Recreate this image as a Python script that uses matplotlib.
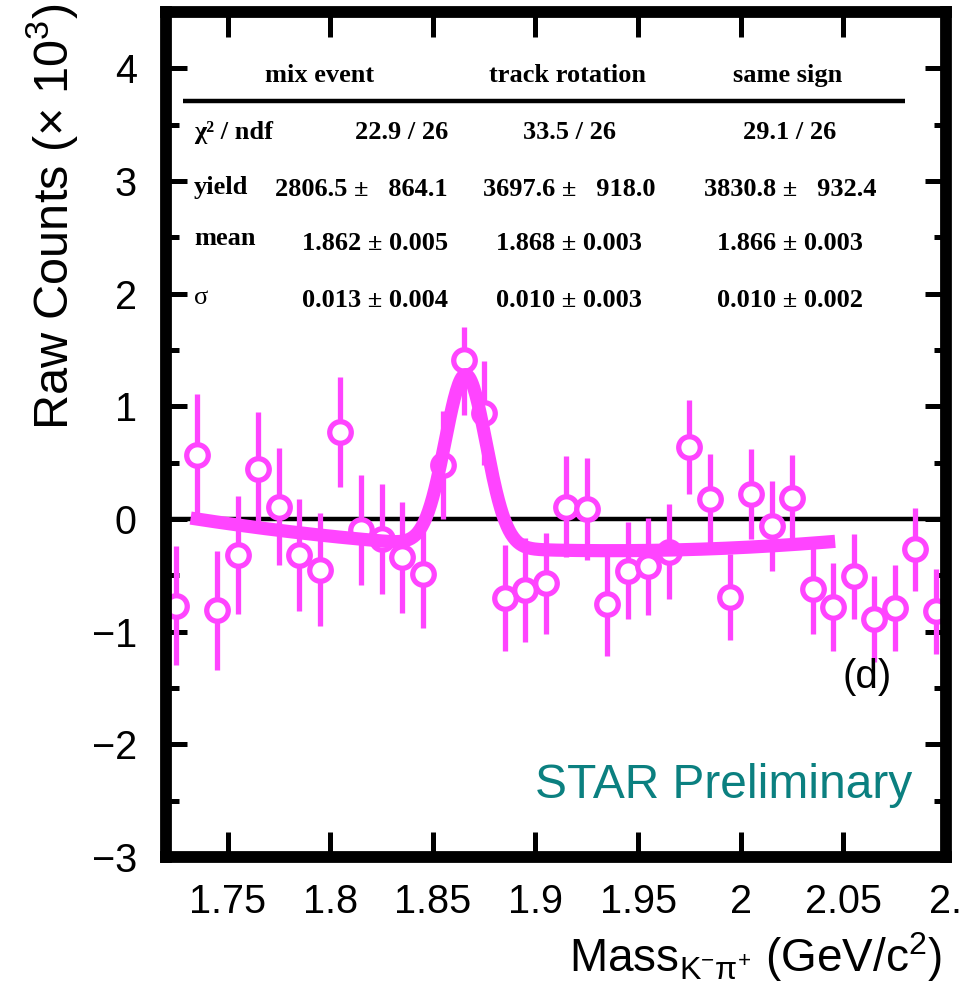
import numpy as np
import matplotlib
matplotlib.use("Agg")
import matplotlib.pyplot as plt
from matplotlib.ticker import MultipleLocator, FixedLocator, FixedFormatter

plt.rcParams['font.family'] = ['Liberation Sans', 'DejaVu Sans']
plt.rcParams['mathtext.fontset'] = 'custom'
plt.rcParams['mathtext.rm'] = 'Liberation Sans'
plt.rcParams['mathtext.it'] = 'Liberation Sans:italic'
plt.rcParams['mathtext.bf'] = 'Liberation Sans:bold'
plt.rcParams['axes.unicode_minus'] = True

# ---- data (Raw counts in units of 10^3) ----
mass = [1.725, 1.735, 1.745, 1.755, 1.765, 1.775, 1.785, 1.795, 1.805, 1.815,
        1.825, 1.835, 1.845, 1.855, 1.865, 1.875, 1.885, 1.895, 1.905, 1.915,
        1.925, 1.935, 1.945, 1.955, 1.965, 1.975, 1.985, 1.995, 2.005, 2.015,
        2.025, 2.035, 2.045, 2.055, 2.065, 2.075, 2.085, 2.095]
counts = [-0.77, 0.57, -0.81, -0.32, 0.44, 0.11, -0.32, -0.45, 0.77, -0.10,
          -0.18, -0.34, -0.49, 0.48, 1.41, 0.94, -0.70, -0.63, -0.57, 0.11,
          0.09, -0.75, -0.46, -0.42, -0.29, 0.64, 0.18, -0.69, 0.22, -0.06,
          0.19, -0.62, -0.78, -0.51, -0.89, -0.79, -0.27, -0.82]
err_low = [0.53, 0.54, 0.53, 0.52, 0.51, 0.52, 0.50, 0.50, 0.49, 0.49,
           0.49, 0.49, 0.48, 0.48, 0.49, 0.46, 0.47, 0.46, 0.45, 0.45,
           0.45, 0.47, 0.43, 0.43, 0.42, 0.42, 0.40, 0.38, 0.40, 0.40,
           0.38, 0.40, 0.39, 0.38, 0.38, 0.38, 0.37, 0.38]
err_high = [0.53, 0.54, 0.53, 0.52, 0.51, 0.52, 0.50, 0.50, 0.49, 0.49,
            0.49, 0.49, 0.48, 0.48, 0.29, 0.46, 0.47, 0.46, 0.45, 0.45,
            0.45, 0.47, 0.43, 0.43, 0.42, 0.42, 0.40, 0.38, 0.40, 0.40,
            0.38, 0.40, 0.39, 0.38, 0.38, 0.38, 0.37, 0.38]

# fit (same-sign background): gaussian + quadratic background
fit_yield = 3.8308      # x10^3
fit_mean = 1.866
fit_sigma = 0.010
bin_width = 0.01
bg_pars = [-0.28, 0.186, 6.92]   # value, slope, curvature around 1.95
fit_range = [1.732, 2.046]

# table text
col_headers = ["mix event", "track rotation", "same sign"]
row_labels = ["χ² / ndf", "yield", "mean", "σ"]
table_vals = [
    ["22.9 / 26", "33.5 / 26", "29.1 / 26"],
    ["2806.5 ±   864.1", "3697.6 ±   918.0", "3830.8 ±   932.4"],
    ["1.862 ± 0.005", "1.868 ± 0.003", "1.866 ± 0.003"],
    ["0.013 ± 0.004", "0.010 ± 0.003", "0.010 ± 0.002"],
]
xtick_vals = [1.75, 1.80, 1.85, 1.90, 1.95, 2.00, 2.05, 2.10]
xtick_labels = ["1.75", "1.8", "1.85", "1.9", "1.95", "2", "2.05", "2."]

MAG = "#ff44ff"
TEAL = "#0b8080"

fig = plt.figure(figsize=(9.66, 9.92), dpi=100)
W, H = 966, 992
L, R, T, B = 166, 946, 12, 857
ax = fig.add_axes([L / W, 1 - B / H, (R - L) / W, (B - T) / H])
ax.set_xlim(1.72, 2.10)
ax.set_ylim(-3.0, 4.5)

# zero line
ax.axhline(0, color='black', lw=3.2, zorder=1)

# data points
ax.errorbar(mass, counts, yerr=[err_low, err_high], fmt='o', color=MAG,
            ecolor=MAG, elinewidth=3.8, capsize=0, markersize=15.5,
            markeredgewidth=3.8, markerfacecolor='white', markeredgecolor=MAG,
            zorder=3)

# fit curve
xf = np.linspace(fit_range[0], fit_range[1], 600)
amp = fit_yield * bin_width / (fit_sigma * np.sqrt(2 * np.pi))
d = xf - 1.95
yf = bg_pars[0] + bg_pars[1] * d + bg_pars[2] * d ** 2 + \
    amp * np.exp(-0.5 * ((xf - fit_mean) / fit_sigma) ** 2)
ax.plot(xf, yf, color=MAG, lw=9.5, solid_capstyle='butt', zorder=4)

# axes styling
for s in ax.spines.values():
    s.set_linewidth(8.5)
    s.set_zorder(6)
ax.xaxis.set_major_locator(FixedLocator(xtick_vals))
ax.xaxis.set_major_formatter(FixedFormatter(xtick_labels))
ax.yaxis.set_major_locator(MultipleLocator(1))
ax.yaxis.set_minor_locator(MultipleLocator(0.5))
ax.tick_params(axis='x', which='major', direction='in', length=18, width=3.6,
               top=True, bottom=True, labelsize=28.5, pad=19)
ax.tick_params(axis='y', which='major', direction='in', length=15, width=3.6,
               left=True, right=True, labelsize=28.5, pad=21)
ax.tick_params(axis='y', which='minor', direction='in', length=9, width=3.6,
               left=True, right=True)

# table
serif = ['Liberation Serif', 'DejaVu Serif']
hx = [0.197, 0.515, 0.797]
for x, t in zip(hx, col_headers):
    ax.text(x, 0.925, t, transform=ax.transAxes, ha='center', va='center',
            family=serif, fontweight='bold', fontsize=19)
ax.plot([0.0218, 0.947], [0.8947, 0.8947], transform=ax.transAxes,
        color='black', lw=3.2, solid_capstyle='butt', zorder=5)
row_y = [0.857, 0.790, 0.726, 0.659]
lab_y = [0.857, 0.792, 0.732, 0.662]
for ry, ly, lab, vals in zip(row_y, lab_y, row_labels, table_vals):
    weight = 'normal' if lab in ("σ",) else 'bold'
    ax.text(0.036, ly, lab, transform=ax.transAxes, ha='left', va='center',
            family=serif, fontweight=weight, fontsize=19)
    ax.text(0.3615, ry, vals[0], transform=ax.transAxes, ha='right', va='center',
            family=serif, fontweight='bold', fontsize=19)
    ax.text(0.517, ry, vals[1], transform=ax.transAxes, ha='center', va='center',
            family=serif, fontweight='bold', fontsize=19)
    ax.text(0.800, ry, vals[2], transform=ax.transAxes, ha='center', va='center',
            family=serif, fontweight='bold', fontsize=19)

# annotations
ax.text((867 - L) / (R - L), (B - 677) / (B - T), "(d)", transform=ax.transAxes,
        ha='center', va='center', fontsize=29)
ax.text((535 - L) / (R - L), (B - 785) / (B - T), "STAR Preliminary",
        transform=ax.transAxes, ha='left', va='center', fontsize=34.5, color=TEAL)

# axis titles
fig.text(52 / W, 1 - 4 / H, r"Raw Counts (× 10$^{3}$)", rotation=90,
         ha='center', va='top', fontsize=35)
fig.text(942 / W, 1 - 972 / H, r"Mass$_{\mathrm{K^{-}\pi^{+}}}$ (GeV/c$^{2}$)",
         ha='right', va='baseline', fontsize=33)

fig.savefig("out.png", dpi=100)
